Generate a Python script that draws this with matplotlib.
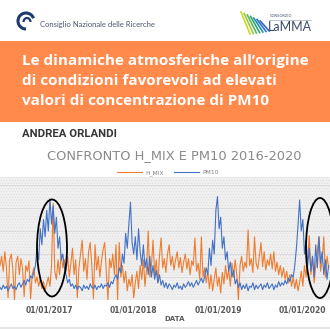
import matplotlib

matplotlib.use("Agg")
import matplotlib.pyplot as plt
import pandas as pd
from matplotlib.lines import Line2D
from matplotlib.patches import Arc, Ellipse, Rectangle

# weekly samples, both series on the chart's shared scale
pm10 = [
    11, 9, 13, 10, 12, 8, 11, 14, 10, 12, 9, 13, 15, 11, 14, 17, 13, 18, 16, 21, 19, 24,
    30, 45, 35, 62, 48, 70, 55, 78, 60, 88, 66, 82, 58, 72, 45, 55, 35, 40, 28,
    22, 15, 18, 12, 14, 10, 13, 9, 12, 11, 8, 13, 10, 12, 9, 14, 11, 10, 13, 9,
    12, 11, 14, 10, 13, 12, 15, 11, 16, 14, 19,
    22, 18, 28, 24, 40, 32, 58, 45, 66, 85, 50, 40,
    55, 35, 62, 42, 30, 48, 28, 36, 22, 38, 20, 30, 18, 26, 15, 22,
    13, 17, 11, 15, 10, 14, 12, 9, 13, 11, 15, 10, 12, 9, 14, 11, 13, 16, 12, 15,
    11, 14, 17, 13, 16, 19, 15, 20,
    28, 22, 45, 30, 52, 40, 78, 90, 62, 72, 45, 55, 35, 42, 25, 33, 20, 26,
    14, 18, 11, 15, 9, 13, 10, 14, 8, 12, 11, 15, 9, 13, 10, 12, 14, 9, 13, 11,
    15, 10, 12, 14, 9, 13, 11, 16, 12, 15, 13, 17, 14, 19, 16, 22, 20,
    30, 45, 65, 87, 60, 70, 40, 52, 30, 45, 25, 38, 20, 48, 28, 55, 32, 42, 22, 35, 18, 30,
]
h_mix = [
    30, 38, 25, 42, 28, 2, 35, 40, 26, 0, 33, 38, 22, 36, 27, 3, 30, 25, 34, 1, 22, 28,
    15, 20, 12, 18, 10, 16, 8, 14, 20, 12, 30, 84, 25, 18, 35, 22, 40, 28, 35,
    25, 38, 20, 32, 45, 22, 35, 2, 28, 40, 52, 25, 36, 18, 42, 50, 30, 1, 48, 26,
    38, 20, 34, 44, 50, 24, 0, 36, 28, 40, 22,
    48, 0, 50, 20, 30, 15, 25, 8, 18, 12, 22, 2,
    15, 25, 10, 30, 18, 35, 12, 28, 60, 20, 30, 52, 22, 35, 15, 38,
    54, 28, 36, 24, 40, 48, 30, 38, 26, 35, 42, 28, 37, 24, 33, 40, 27, 36, 22, 34,
    30, 54, 25, 32, 18, 55, 20, 28,
    15, 25, 10, 22, 8, 18, 28, 12, 20, 6, 24, 14, 30, 18, 26, 12, 32, 20,
    35, 22, 0, 30, 38, 25, 33, 28, 61, 30, 36, 24, 55, 32, 27, 38, 50, 29, 42, 26,
    35, 30, 40, 27, 42, 25, 33, 22, 30, 20, 28, 18, 25, 15, 22, 12, 20,
    10, 18, 8, 15, 25, 12, 30, 20, 35, 56, 22, 38, 15, 30, 42, 55, 25, 35, 55, 20, 38, 28,
]
start_date = "2016-05-29"
x_range = ["2016-05-29", "2020-05-02"]
tick_dates = ["2017-01-01", "2018-01-01", "2019-01-01", "2020-01-01"]
tick_labels = ["01/01/2017", "01/01/2018", "01/01/2019", "01/01/2020"]
series_names = ["H_MIX", "PM10"]

title_lines = [
    "Le dinamiche atmosferiche all\u2019origine",
    "di condizioni favorevoli ad elevati",
    "valori di concentrazione di PM10",
]
author = "ANDREA ORLANDI"
chart_title = "CONFRONTO H_MIX E PM10 2016-2020"

ORANGE = "#ED7D31"
BLUE = "#4472C4"
W = 330.0


def fx(x):
    return x / W


def fy(y):
    return 1 - y / W


dates = pd.date_range(start_date, periods=len(pm10), freq="7D")

plt.rcParams["hatch.linewidth"] = 0.4
fig = plt.figure(figsize=(3.3, 3.3), dpi=100)
fig.patch.set_facecolor("white")

# orange banner
fig.patches.append(Rectangle((0, fy(122)), 1, (122 - 41) / W, transform=fig.transFigure,
                             facecolor="#FF8A4C", edgecolor="none", zorder=0))
for line, base in zip(title_lines, [65, 85, 105]):
    fig.text(fx(22), fy(base), line, color="white", fontsize=10.95, fontweight="bold",
             family="Open Sans", va="baseline", ha="left")
fig.text(fx(22), fy(137), author, color="#363636", fontsize=8.2, fontweight="bold",
         family="Roboto", va="baseline", ha="left")

# CNR logo
fig.patches.append(Arc((fx(26), fy(21)), 16 / W, 16 / W, theta1=20, theta2=270,
                       transform=fig.transFigure, color="#1f3b6e", lw=2.2))
fig.patches.append(Arc((fx(27), fy(22)), 7 / W, 8 / W, theta1=0, theta2=180,
                       transform=fig.transFigure, color="#1f3b6e", lw=1.6))
fig.text(fx(40), fy(27), "Consiglio Nazionale delle Ricerche", color="#4a5670", fontsize=5.5,
         family="Lato", va="baseline")

# LaMMA logo stripes
stripe_colors = ["#c8d92b", "#9cc93a", "#5fb45a", "#2fa37a", "#2a8fb0", "#2f77c8", "#3b63c4"]
for k, c in enumerate(stripe_colors):
    x0 = 241 + k * 3.2
    fig.lines.append(Line2D([fx(x0), fx(x0 + 9)], [fy(18 + k * 1.5 - 6), fy(34 - k * 0.5)],
                            transform=fig.transFigure, color=c, lw=1.2))
fig.text(fx(270), fy(17), "CONSORZIO", color="#3a4a6b", fontsize=2.6, family="DejaVu Sans")
fig.lines.append(Line2D([fx(269), fx(311)], [fy(19.5), fy(19.5)], transform=fig.transFigure,
                        color="#8a94a8", lw=0.4))
fig.text(fx(268), fy(31), "LaMMA", color="#3a4a6b", fontsize=9, family="Lato", va="baseline")

# chart title and legend
fig.text(fx(174), fy(159), chart_title, color="#8a8a8a", fontsize=9.4, family="DejaVu Sans",
         ha="center", va="baseline")

ax = fig.add_axes([0, fy(300), 1, (300 - 177) / W])
ax.set_facecolor("#f0f0f0")
ax.add_patch(Rectangle((0, 0), 1, 1, transform=ax.transAxes, facecolor="none",
                       edgecolor="#dcdcdc", hatch="......", lw=0, zorder=0))
for yv in [20, 40, 60, 80, 100]:
    ax.axhline(yv, color="#d9d9d9", lw=0.6, zorder=1)

ax.plot(dates, h_mix, color=ORANGE, lw=0.8, label=series_names[0], zorder=2)
ax.plot(dates, pm10, color=BLUE, lw=0.8, label=series_names[1], zorder=3)

ax.set_xlim(pd.Timestamp(x_range[0]), pd.Timestamp(x_range[1]))
ax.set_ylim(0, 107)
ax.set_yticks([])
ax.set_xticks([pd.Timestamp(d) for d in tick_dates])
ax.set_xticklabels(tick_labels)
ax.tick_params(axis="x", length=0, pad=4, labelsize=5.5, labelcolor="#595959")
for lab in ax.get_xticklabels():
    lab.set_fontweight("bold")
for s in ax.spines.values():
    s.set_visible(False)

fig.text(fx(175), fy(321), "DATA", color="#595959", fontsize=5, fontweight="bold",
         ha="center", va="baseline")
fig.lines.append(Line2D([0, 1], [fy(328), fy(328)], transform=fig.transFigure,
                        color="#e6e6e6", lw=1.5))

leg = fig.legend(loc="center", bbox_to_anchor=(fx(168), fy(173)), ncol=2, frameon=False,
                 fontsize=4.3, handlelength=4.2, columnspacing=1.6, handletextpad=0.6)
for t in leg.get_texts():
    t.set_color("#7f7f7f")

# hand drawn ellipses
fig.patches.append(Ellipse((fx(52), fy(248)), 30 / W, 97 / W, transform=fig.transFigure,
                           fill=False, edgecolor="black", lw=1.3, zorder=10))
fig.patches.append(Ellipse((fx(320), fy(248)), 28 / W, 100 / W, transform=fig.transFigure,
                           fill=False, edgecolor="black", lw=1.3, zorder=10))

fig.savefig("out.png", dpi=100)
